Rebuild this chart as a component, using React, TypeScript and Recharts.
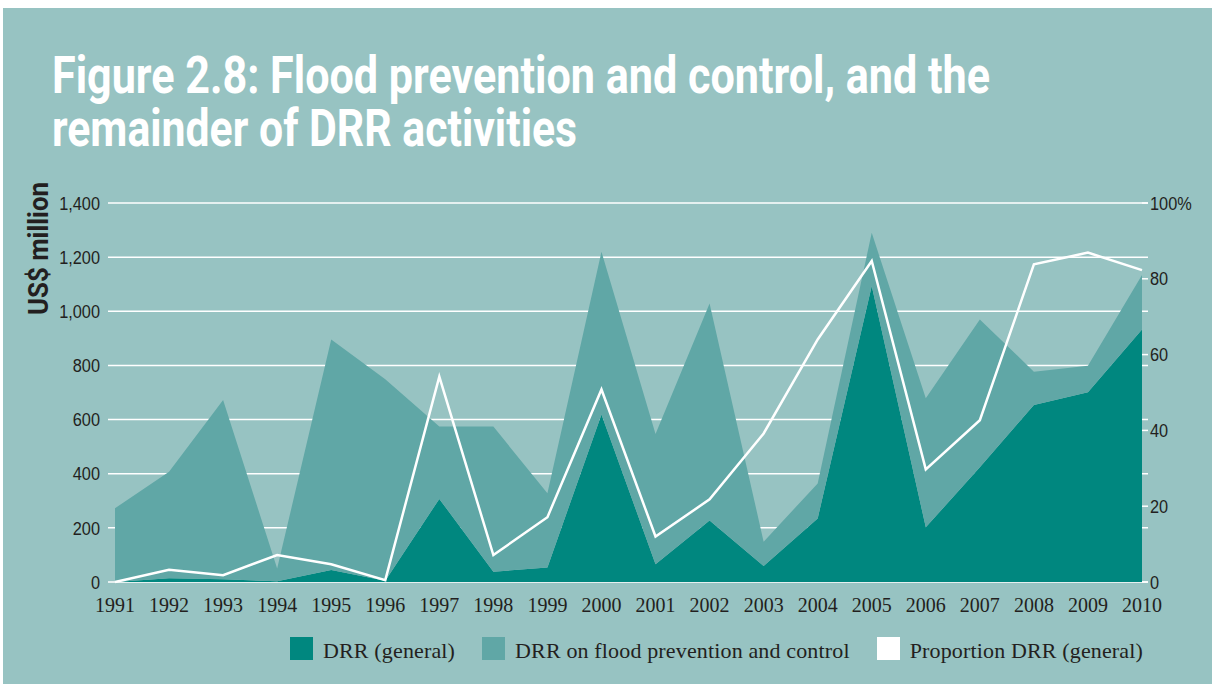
import { ComposedChart, Area, Line, XAxis, YAxis, CartesianGrid } from 'recharts'

const years = ['1991', '1992', '1993', '1994', '1995', '1996', '1997', '1998', '1999', '2000',
    '2001', '2002', '2003', '2004', '2005', '2006', '2007', '2008', '2009', '2010']

// US$ million
const drrGeneral = [0, 14, 10, 3, 44, 5, 307, 38, 54, 619, 66, 227, 59, 235, 1093, 202, 424, 654, 701, 933]
const drrFlood = [272, 393, 662, 47, 852, 744, 267, 536, 274, 601, 481, 802, 90, 129, 197, 477, 546, 123, 98, 201]
// percent
const proportionGeneral = [0, 3.2, 1.8, 7.1, 4.7, 0.5, 54.2, 7.1, 17.1, 50.8, 12.0, 21.8, 39.2, 64.0, 84.7, 29.7, 42.7, 83.8, 86.9, 82.3]

const leftTicks = [0, 200, 400, 600, 800, 1000, 1200, 1400]
const rightTicks = [0, 20, 40, 60, 80, 100]

const legendItems = [
    { label: 'DRR (general)', color: '#00877f' },
    { label: 'DRR on flood prevention and control', color: '#60a7a6' },
    { label: 'Proportion DRR (general)', color: '#ffffff' },
]

const BG = '#97c3c2'
const INK = '#231f20'
const SANS = '"Liberation Sans", Arial, sans-serif'
const SERIF = '"Liberation Serif", "Times New Roman", serif'

const LeftTick = (props: any) => {
    const { x, y, payload } = props
    return (
        <text transform={`translate(${x},${y}) scale(0.86,1)`} textAnchor="end" dy="0.35em"
            fill={INK} fontSize={19} fontFamily={SANS}>
            {payload.value.toLocaleString('en-US')}
        </text>
    )
}

const RightTick = (props: any) => {
    const { x, y, payload } = props
    return (
        <g>
            <line x1={x - 8} x2={x - 2} y1={y} y2={y} stroke="#fff" strokeWidth={1.5} />
            <text transform={`translate(${x},${y}) scale(0.86,1)`} textAnchor="start" dy="0.35em"
                fill={INK} fontSize={19} fontFamily={SANS}>
                {payload.value === 100 ? '100%' : payload.value}
            </text>
        </g>
    )
}

const YearTick = (props: any) => {
    const { x, y, payload } = props
    return (
        <text x={x} y={y + 30} textAnchor="middle" fill={INK} fontSize={20} fontFamily={SERIF}>
            {payload.value}
        </text>
    )
}

export default function App() {
    const data = years.map((year, i) => ({
        year,
        general: drrGeneral[i],
        flood: drrFlood[i],
        proportion: proportionGeneral[i],
    }))

    return (
        <div style={{ position: 'absolute', left: 0, top: 0, width: 1214, height: 686, background: '#fff' }}>
            <div style={{ position: 'absolute', left: 3, top: 8, width: 1209, height: 676, background: BG }} />

            <svg width={1214} height={180} style={{ position: 'absolute', left: 0, top: 0 }}>
                <text x={52} y={93} fill="#fff" fontSize={52} fontWeight="bold" fontFamily='Roboto, "Liberation Sans", sans-serif'
                    textLength={938} lengthAdjust="spacingAndGlyphs">
                    Figure 2.8: Flood prevention and control, and the
                </text>
                <text x={52} y={146} fill="#fff" fontSize={52} fontWeight="bold" fontFamily='Roboto, "Liberation Sans", sans-serif'
                    textLength={525} lengthAdjust="spacingAndGlyphs">
                    remainder of DRR activities
                </text>
            </svg>

            <div style={{ position: 'absolute', left: 0, top: 0 }}>
                <ComposedChart width={1214} height={686} data={data}
                    margin={{ top: 203, right: 6, bottom: 64, left: 50 }}>
                    <CartesianGrid yAxisId="left" vertical={false} stroke="#fff" strokeWidth={1.5} />
                    <XAxis dataKey="year" axisLine={false} tickLine={false} tickSize={0} tickMargin={0}
                        height={40} interval={0} padding={{ left: 7, right: 6 }} tick={<YearTick />} />
                    <YAxis yAxisId="left" domain={[0, 1400]} ticks={leftTicks} axisLine={false} tickLine={false}
                        tickSize={0} tickMargin={8} width={58} tick={<LeftTick />} />
                    <YAxis yAxisId="right" orientation="right" domain={[0, 100]} ticks={rightTicks} axisLine={false}
                        tickLine={false} tickSize={0} tickMargin={2} width={60} tick={<RightTick />} />
                    <Area yAxisId="left" type="linear" dataKey="general" stackId="a" fill="#00877f" fillOpacity={1}
                        stroke="none" isAnimationActive={false} />
                    <Area yAxisId="left" type="linear" dataKey="flood" stackId="a" fill="#60a7a6" fillOpacity={1}
                        stroke="none" isAnimationActive={false} />
                    <Line yAxisId="right" type="linear" dataKey="proportion" stroke="#fff" strokeWidth={2.5}
                        dot={false} isAnimationActive={false} />
                </ComposedChart>
            </div>

            <svg width={80} height={340} style={{ position: 'absolute', left: 0, top: 0 }}>
                <text transform="translate(48,315) rotate(-90)" fill={INK} fontSize={28} fontWeight="bold"
                    fontFamily='Roboto, "Liberation Sans", sans-serif' textLength={133} lengthAdjust="spacingAndGlyphs">
                    US$ million
                </text>
            </svg>

            <div style={{ position: 'absolute', left: 290, top: 637, display: 'flex', alignItems: 'center', height: 23 }}>
                {legendItems.map((item) => (
                    <div key={item.label} style={{ display: 'flex', alignItems: 'center', marginRight: 27 }}>
                        <div style={{ width: 23, height: 23, background: item.color, marginRight: 10 }} />
                        <span style={{ fontFamily: SERIF, fontSize: 22, color: INK, lineHeight: '23px', letterSpacing: 0.15,
                            whiteSpace: 'nowrap', position: 'relative', top: 2 }}>
                            {item.label}
                        </span>
                    </div>
                ))}
            </div>
        </div>
    )
}
